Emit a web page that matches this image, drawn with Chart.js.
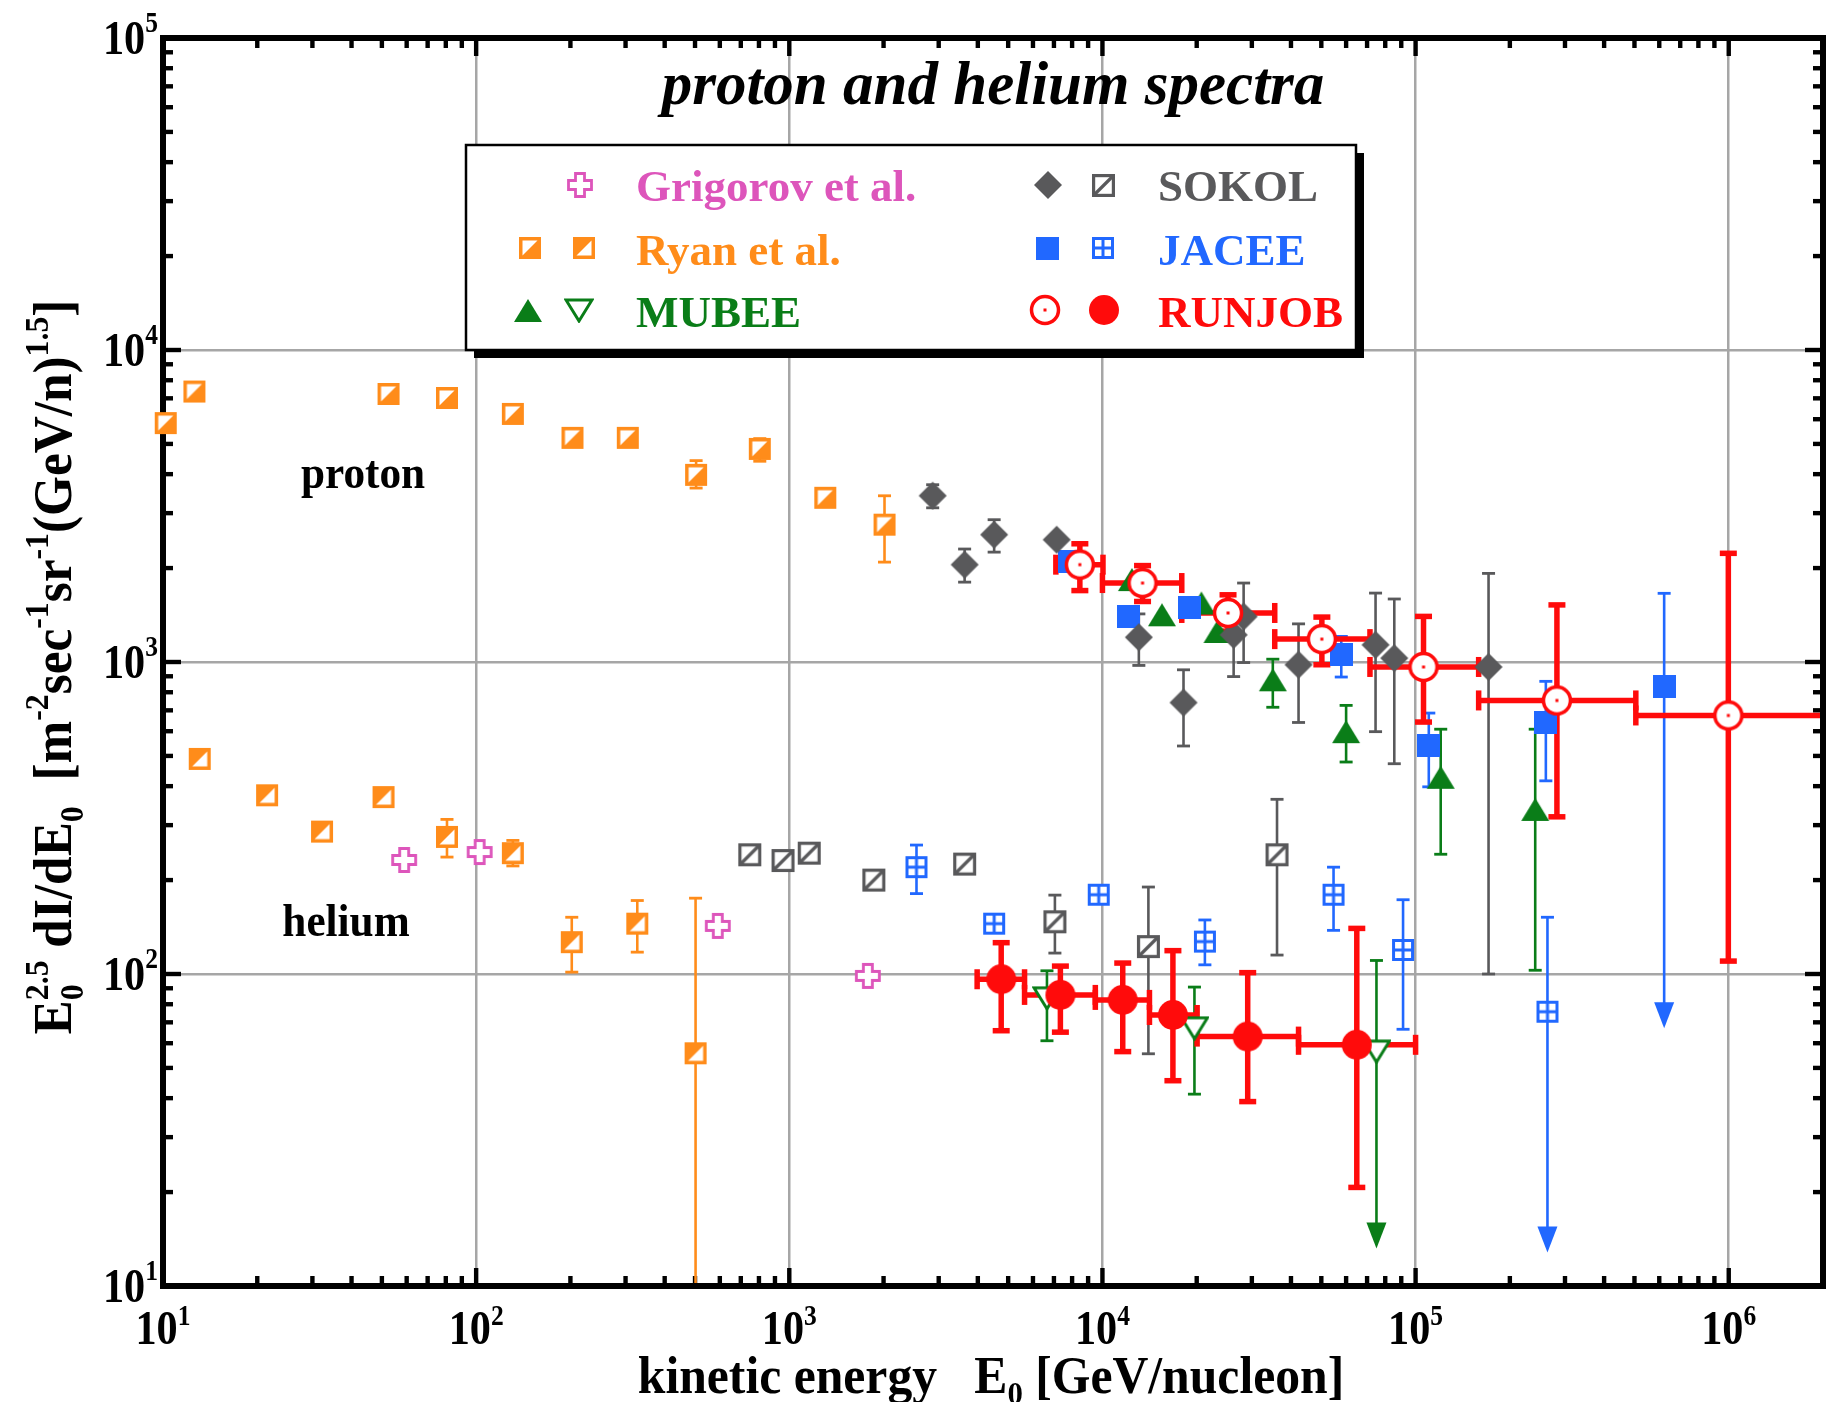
<!DOCTYPE html>
<html>
<head>
<meta charset="utf-8">
<title>proton and helium spectra</title>
<script src="https://cdn.jsdelivr.net/npm/chart.js@4.4.1/dist/chart.umd.min.js"></script>
<style>
  html, body { margin: 0; padding: 0; background: #fff; overflow: hidden; }
  canvas { display: block; }
</style>
</head>
<body>
<canvas id="chart" width="1828" height="1402"></canvas>
<script>
// rows: energy [GeV/n], flux, flux low, flux high ('arrow' = lower end is an upper limit)
const ryanProton = [
  [10.2, 5830], [12.6, 7360], [52.5, 7230], [80.7, 7020], [131, 6240],
  [203, 5230], [305, 5230], [504, 3980, 3610, 4420], [805, 4820, 4400, 5200],
  [1303, 3360], [2014, 2755, 2090, 3410]
];
const ryanHelium = [
  [13.1, 489], [21.5, 374], [32.2, 286], [50.6, 369], [80.7, 275, 237, 313],
  [131, 244, 222, 268], [202, 126.5, 101.4, 152], [327, 145, 117.5, 172], [502, 55.7, 5, 175]
];
const grigorovHelium = [[58.9, 232], [102.6, 246], [591, 142.6], [1782, 98.6]];
const sokolProton = [
  [2870, 3412, 3120, 3700], [3630, 2051, 1803, 2302], [4510, 2559, 2250, 2858], [7140, 2466],
  [13070, 1200, 975, 1426], [18150, 741, 538, 944], [26240, 1222, 898, 1500], [28240, 1399, 996, 1791],
  [42290, 980, 640, 1325], [74500, 1135, 598, 1663], [85500, 1029, 472, 1592], [171000, 964, 100, 1923]
];
const sokolHelium = [
  [748, 241], [955, 231], [1158, 244], [1862, 200], [3630, 225],
  [7050, 147, 116.7, 179], [14020, 122.4, 55.5, 190], [36100, 241, 115, 363]
];
const jaceeProton = [
  [7830, 2100], [12070, 1399], [19000, 1500], [57900, 1054, 895, 1208],
  [110200, 541, 398, 686], [260600, 638, 416, 867], [622000, 832, 67, 1660, 'arrow']
];
const jaceeHelium = [
  [2548, 220, 181, 259], [4510, 145], [9730, 179.5], [21240, 127, 107, 149],
  [54700, 179.5, 138, 220], [91200, 119.4, 66.5, 173], [263700, 75.7, 12.8, 152, 'arrow']
];
const mubeeProton = [
  [12420, 1837], [15490, 1417], [20700, 1545], [23300, 1253], [35000, 877, 716, 1021],
  [60000, 598, 478, 726], [120300, 427, 242, 609], [241000, 337, 102.8, 609]
];
const mubeeHelium = [[6650, 83.6, 61.1, 102.4], [19670, 67, 41.2, 90.8], [75000, 56.4, 13.2, 110.5, 'arrow']];
// RUNJOB rows: energy, flux, flux low, flux high, energy low, energy high
const runjobProton = [
  [8470, 2051, 1694, 2393, 7100, 10040],
  [13430, 1791, 1563, 2037, 10000, 17920],
  [25180, 1436, 1256, 1642, 17920, 35500],
  [50200, 1184, 980, 1393, 35500, 71500],
  [106000, 964, 642, 1400, 71500, 159000],
  [282700, 753, 319, 1524, 159000, 505000],
  [997000, 674, 110, 2230, 505000, 2000000]
];
const runjobHelium = [
  [4750, 96.2, 65.8, 126, 3980, 5640],
  [7340, 85.7, 65.1, 106, 5640, 9490],
  [11610, 82.6, 56.4, 108.4, 9490, 14130],
  [16790, 73.9, 45.5, 118.8, 14130, 20060],
  [29100, 63, 39, 101, 20060, 42290],
  [64900, 59.3, 20.7, 140, 42290, 100000]
];

const xDecades = [10, 100, 1000, 10000, 100000, 1000000];
const yDecades = [10, 100, 1000, 10000, 100000];
const xLabelExp = ['1', '2', '3', '4', '5', '6'];
const yLabelExp = ['1', '2', '3', '4', '5'];

const ORANGE = '#ff8c1a', PINK = '#dd55bb', GREEN = '#0a7d18', GRAY = '#59595b', BLUE = '#2168ff', RED = '#ff0b0b';
const SERIF = "'Liberation Serif', 'Times New Roman', serif";

// minor ticks 2..9 inside each decade
function withMinors(decades, max) {
  const out = [];
  decades.forEach(d => { for (let k = 1; k <= 9; k++) if (d * k <= max) out.push(d * k); });
  return out;
}
const xTicks = withMinors(xDecades, 2e6);
const yTicks = withMinors(yDecades, 1e5);
const isDecade = v => Math.abs(Math.log10(v) - Math.round(Math.log10(v))) < 1e-6;

// ---- marker images ----
function marker(w, h, draw) {
  const c = document.createElement('canvas');
  c.width = w; c.height = h;
  draw(c.getContext('2d'), w, h);
  return c;
}
const mk = {
  ryanP: marker(24, 24, g => {
    g.fillStyle = '#fff'; g.fillRect(1, 1, 22, 22);
    g.fillStyle = ORANGE; g.beginPath(); g.moveTo(1, 23); g.lineTo(23, 1); g.lineTo(23, 23); g.closePath(); g.fill();
    g.strokeStyle = ORANGE; g.lineWidth = 3.5; g.strokeRect(2.75, 2.75, 18.5, 18.5);
  }),
  ryanHe: marker(24, 24, g => {
    g.fillStyle = '#fff'; g.fillRect(1, 1, 22, 22);
    g.fillStyle = ORANGE; g.beginPath(); g.moveTo(1, 1); g.lineTo(23, 1); g.lineTo(1, 23); g.closePath(); g.fill();
    g.strokeStyle = ORANGE; g.lineWidth = 3.5; g.strokeRect(2.75, 2.75, 18.5, 18.5);
  }),
  grigorov: marker(28, 28, g => {
    const c = 14, a = 11.5, b = 4.5;
    g.beginPath();
    [[c - b, c - a], [c + b, c - a], [c + b, c - b], [c + a, c - b], [c + a, c + b], [c + b, c + b],
     [c + b, c + a], [c - b, c + a], [c - b, c + b], [c - a, c + b], [c - a, c - b], [c - b, c - b]]
      .forEach(([px, py], i) => i ? g.lineTo(px, py) : g.moveTo(px, py));
    g.closePath();
    g.fillStyle = '#fff'; g.fill();
    g.strokeStyle = PINK; g.lineWidth = 2.8; g.stroke();
  }),
  sokolP: marker(30, 30, g => {
    g.fillStyle = GRAY; g.beginPath();
    g.moveTo(15, 1); g.lineTo(29, 15); g.lineTo(15, 29); g.lineTo(1, 15); g.closePath(); g.fill();
  }),
  sokolHe: marker(25, 25, g => {
    g.fillStyle = '#fff'; g.fillRect(1, 1, 23, 23);
    g.strokeStyle = GRAY; g.lineWidth = 3.2; g.strokeRect(2.6, 2.6, 19.8, 19.8);
    g.beginPath(); g.moveTo(3, 22); g.lineTo(22, 3); g.stroke();
  }),
  jaceeP: marker(23, 23, g => { g.fillStyle = BLUE; g.fillRect(0, 0, 23, 23); }),
  jaceeHe: marker(24, 24, g => {
    g.fillStyle = '#fff'; g.fillRect(1, 1, 22, 22);
    g.strokeStyle = BLUE; g.lineWidth = 3; g.strokeRect(2.5, 2.5, 19, 19);
    g.beginPath(); g.moveTo(12, 2); g.lineTo(12, 22); g.moveTo(2, 12); g.lineTo(22, 12); g.stroke();
  }),
  mubeeP: marker(30, 25, g => {
    g.fillStyle = GREEN; g.beginPath(); g.moveTo(15, 1); g.lineTo(29, 24); g.lineTo(1, 24); g.closePath(); g.fill();
  }),
  mubeeHe: marker(30, 25, g => {
    g.beginPath(); g.moveTo(2, 2); g.lineTo(28, 2); g.lineTo(15, 23); g.closePath();
    g.fillStyle = '#fff'; g.fill();
    g.strokeStyle = GREEN; g.lineWidth = 3; g.stroke();
  }),
  runjobP: marker(32, 32, g => {
    g.beginPath(); g.arc(16, 16, 13.5, 0, Math.PI * 2);
    g.fillStyle = '#fff'; g.fill();
    g.strokeStyle = RED; g.lineWidth = 3.5; g.stroke();
    g.fillStyle = RED; g.fillRect(14.5, 14.5, 3, 3);
  }),
  runjobHe: marker(32, 32, g => {
    g.beginPath(); g.arc(16, 16, 15, 0, Math.PI * 2); g.fillStyle = RED; g.fill();
  })
};

function toPoints(rows, withEnergyBars) {
  return rows.map(r => ({
    x: r[0], y: r[1],
    lo: r[2] ?? null, hi: r[3] ?? null,
    arrow: r[4] === 'arrow',
    xlo: withEnergyBars ? r[4] : null, xhi: withEnergyBars ? r[5] : null
  }));
}

const thin = c => ({ color: c, width: 2.6, cap: 13, capT: 2.8 });
const thick = { color: RED, width: 5.5, cap: 17, capT: 5.5, xcap: 20 };

function series(rows, img, bars, order, energyBars) {
  return {
    data: toPoints(rows, energyBars),
    pointStyle: img, pointRadius: 12, pointHoverRadius: 12,
    order: order, clip: false, bars: bars
  };
}

const datasets = [
  series(runjobProton, mk.runjobP, thick, 0, true),
  series(runjobHelium, mk.runjobHe, thick, 0, true),
  series(sokolProton, mk.sokolP, thin(GRAY), 1),
  series(sokolHelium, mk.sokolHe, thin(GRAY), 1),
  series(jaceeProton, mk.jaceeP, thin(BLUE), 2),
  series(jaceeHelium, mk.jaceeHe, thin(BLUE), 2),
  series(mubeeProton, mk.mubeeP, thin(GREEN), 3),
  series(mubeeHelium, mk.mubeeHe, thin(GREEN), 3),
  series(ryanProton, mk.ryanP, thin(ORANGE), 4),
  series(ryanHelium, mk.ryanHe, thin(ORANGE), 4),
  series(grigorovHelium, mk.grigorov, thin(PINK), 5)
];

// ---- text helpers: parts are [text, kind], kind 0 normal, 1 sup, 2 sub, 3 [sub, sup] stacked ----
const font = (s, st) => (st || 'bold') + ' ' + s + 'px ' + SERIF;
function richWidth(ctx, parts, size) {
  let w = 0;
  parts.forEach(([t, k]) => {
    ctx.font = font(k === 0 ? size : size * 0.62);
    w += k === 3 ? Math.max(ctx.measureText(t[0]).width, ctx.measureText(t[1]).width) : ctx.measureText(t).width;
  });
  return w;
}
function drawRich(ctx, parts, x, y, size, align, sx) {
  sx = sx || 1;
  const w = richWidth(ctx, parts, size) * sx;
  const start = align === 'center' ? x - w / 2 : align === 'right' ? x - w : x;
  ctx.save();
  ctx.translate(start, y); ctx.scale(sx, 1);
  ctx.textAlign = 'left'; ctx.textBaseline = 'alphabetic';
  let cx = 0;
  parts.forEach(([t, k]) => {
    if (k === 0) {
      ctx.font = font(size); ctx.fillText(t, cx, 0); cx += ctx.measureText(t).width;
    } else if (k === 3) {
      ctx.font = font(size * 0.62);
      ctx.fillText(t[0], cx, size * 0.22); ctx.fillText(t[1], cx, -size * 0.42);
      cx += Math.max(ctx.measureText(t[0]).width, ctx.measureText(t[1]).width);
    } else {
      ctx.font = font(size * 0.62);
      ctx.fillText(t, cx, k === 1 ? -size * 0.42 : size * 0.22); cx += ctx.measureText(t).width;
    }
  });
  ctx.restore();
}

// ---- frame, inward ticks and error bars, under the points ----
const frameAndBars = {
  id: 'frameAndBars',
  beforeDatasetsDraw(chart) {
    const { ctx, chartArea: a, scales: { x, y } } = chart;
    ctx.save();
    ctx.fillStyle = '#000';
    x.ticks.forEach(t => {
      const px = x.getPixelForValue(t.value), len = isDecade(t.value) ? 18 : 10;
      ctx.fillRect(px - 2.2, a.bottom - len, 4.4, len);
      ctx.fillRect(px - 2.2, a.top, 4.4, len);
    });
    y.ticks.forEach(t => {
      const py = y.getPixelForValue(t.value), len = isDecade(t.value) ? 18 : 10;
      ctx.fillRect(a.left, py - 2.2, len, 4.4);
      ctx.fillRect(a.right - len, py - 2.2, len, 4.4);
    });
    ctx.lineWidth = 6; ctx.strokeStyle = '#000';
    ctx.strokeRect(a.left, a.top, a.right - a.left, a.bottom - a.top);

    ctx.beginPath();
    ctx.rect(a.left + 3, a.top + 3, a.right - a.left - 6, a.bottom - a.top - 6);
    ctx.clip();
    for (let i = chart.data.datasets.length - 1; i >= 0; i--) {
      const ds = chart.data.datasets[i], b = ds.bars;
      ctx.fillStyle = b.color; ctx.strokeStyle = b.color; ctx.lineWidth = b.width;
      ds.data.forEach(p => {
        const px = x.getPixelForValue(p.x), py = y.getPixelForValue(p.y);
        if (p.lo !== null && p.hi !== null) {
          const yHi = y.getPixelForValue(p.hi), yLo = y.getPixelForValue(p.lo);
          const yEnd = p.arrow ? yLo - 24 : yLo;
          ctx.beginPath(); ctx.moveTo(px, yHi); ctx.lineTo(px, yEnd); ctx.stroke();
          ctx.fillRect(px - b.cap / 2, yHi - b.capT / 2, b.cap, b.capT);
          if (p.arrow) {
            ctx.beginPath(); ctx.moveTo(px - 10, yLo - 26); ctx.lineTo(px + 10, yLo - 26); ctx.lineTo(px, yLo);
            ctx.closePath(); ctx.fill();
          } else {
            ctx.fillRect(px - b.cap / 2, yLo - b.capT / 2, b.cap, b.capT);
          }
        }
        if (p.xlo !== null && p.xhi !== null) {
          const xL = x.getPixelForValue(p.xlo), xR = x.getPixelForValue(p.xhi);
          ctx.beginPath(); ctx.moveTo(xL, py); ctx.lineTo(xR, py); ctx.stroke();
          ctx.fillRect(xL - b.capT / 2, py - b.xcap / 2, b.capT, b.xcap);
          ctx.fillRect(xR - b.capT / 2, py - b.xcap / 2, b.capT, b.xcap);
        }
      });
    }
    ctx.restore();
  }
};

// ---- tick labels, titles, annotations and the boxed legend ----
const labelsAndLegend = {
  id: 'labelsAndLegend',
  afterDraw(chart) {
    const { ctx, scales: { x, y } } = chart;
    ctx.save();
    ctx.fillStyle = '#000';
    const tsz = 48, ssz = 29, sx = 0.88;

    xDecades.forEach((v, i) => {
      ctx.font = font(tsz); const w10 = ctx.measureText('10').width * sx;
      ctx.font = font(ssz); const ws = ctx.measureText(xLabelExp[i]).width * sx;
      const left = x.getPixelForValue(v) - (w10 + ws) / 2;
      ctx.save(); ctx.translate(left, 1344); ctx.scale(sx, 1);
      ctx.textAlign = 'left'; ctx.font = font(tsz); ctx.fillText('10', 0, 0);
      ctx.font = font(ssz); ctx.fillText(xLabelExp[i], w10 / sx, -19);
      ctx.restore();
    });
    yDecades.forEach((v, i) => {
      ctx.font = font(tsz); const w10 = ctx.measureText('10').width * sx;
      ctx.font = font(ssz); const ws = ctx.measureText(yLabelExp[i]).width * sx;
      const py = y.getPixelForValue(v);
      ctx.save(); ctx.translate(158 - ws - w10, py + 16); ctx.scale(sx, 1);
      ctx.textAlign = 'left'; ctx.font = font(tsz); ctx.fillText('10', 0, 0);
      ctx.font = font(ssz); ctx.fillText(yLabelExp[i], w10 / sx, -22);
      ctx.restore();
    });

    // axis titles
    drawRich(ctx, [['kinetic energy   E', 0], ['0', 2], [' [GeV/nucleon]', 0]], 991, 1393, 52, 'center', 0.955);
    ctx.save();
    ctx.translate(71, 667); ctx.rotate(-Math.PI / 2);
    drawRich(ctx, [['E', 0], [['0', '2.5'], 3], [' dI/dE', 0], ['0', 2], ['  [m', 0], ['-2', 1], ['sec', 0],
      ['-1', 1], ['sr', 0], ['-1', 1], ['(GeV/n)', 0], ['1.5', 1], [']', 0]], 0, 0, 54, 'center', 0.95);
    ctx.restore();

    // plot title and group labels
    ctx.textAlign = 'center'; ctx.textBaseline = 'alphabetic';
    ctx.font = font(61, 'italic bold'); ctx.fillText('proton and helium spectra', 993, 104);
    drawRich(ctx, [['proton', 0]], 363, 488, 46, 'center', 0.94);
    drawRich(ctx, [['helium', 0]], 346, 936, 46, 'center', 0.94);

    // legend box with drop shadow
    const L = 466, T = 145, W = 890, H = 205;
    ctx.fillStyle = '#000'; ctx.fillRect(L + 8, T + 8, W, H);
    ctx.fillStyle = '#fff'; ctx.fillRect(L, T, W, H);
    ctx.lineWidth = 2.5; ctx.strokeStyle = '#000'; ctx.strokeRect(L, T, W, H);

    const rowsY = [185, 248, 310], baseY = [201, 265, 327];
    const entries = [
      { imgs: [[mk.grigorov, 580]], text: 'Grigorov et al.', color: PINK, tx: 636, row: 0 },
      { imgs: [[mk.ryanP, 530], [mk.ryanHe, 584]], text: 'Ryan et al.', color: ORANGE, tx: 636, row: 1 },
      { imgs: [[mk.mubeeP, 528], [mk.mubeeHe, 579]], text: 'MUBEE', color: GREEN, tx: 636, row: 2 },
      { imgs: [[mk.sokolP, 1048], [mk.sokolHe, 1103]], text: 'SOKOL', color: GRAY, tx: 1158, row: 0 },
      { imgs: [[mk.jaceeP, 1047], [mk.jaceeHe, 1103]], text: 'JACEE', color: BLUE, tx: 1158, row: 1 },
      { imgs: [[mk.runjobP, 1045], [mk.runjobHe, 1104]], text: 'RUNJOB', color: RED, tx: 1158, row: 2 }
    ];
    entries.forEach(e => {
      e.imgs.forEach(([img, cx]) => ctx.drawImage(img, Math.round(cx - img.width / 2), Math.round(rowsY[e.row] - img.height / 2)));
      ctx.fillStyle = e.color; ctx.font = font(45); ctx.textAlign = 'left';
      ctx.fillText(e.text, e.tx, baseY[e.row]);
    });
    ctx.restore();
  }
};

const logAxis = (min, max, ticks) => ({
  type: 'logarithmic', min: min, max: max,
  afterBuildTicks: scale => { scale.ticks = ticks.map(v => ({ value: v })); },
  ticks: { display: false },
  border: { display: false },
  grid: {
    drawTicks: false, lineWidth: 2.5,
    color: c => (c.tick && isDecade(c.tick.value)) ? '#a6a6a6' : 'rgba(0,0,0,0)'
  }
});

new Chart(document.getElementById('chart').getContext('2d'), {
  type: 'scatter',
  data: { datasets: datasets },
  options: {
    responsive: false,
    animation: false,
    events: [],
    layout: { autoPadding: false, padding: { left: 163, right: 5, top: 38, bottom: 116 } },
    plugins: { legend: { display: false }, tooltip: { enabled: false } },
    scales: { x: logAxis(10, 2e6, xTicks), y: logAxis(10, 1e5, yTicks) }
  },
  plugins: [frameAndBars, labelsAndLegend]
});
</script>
</body>
</html>
